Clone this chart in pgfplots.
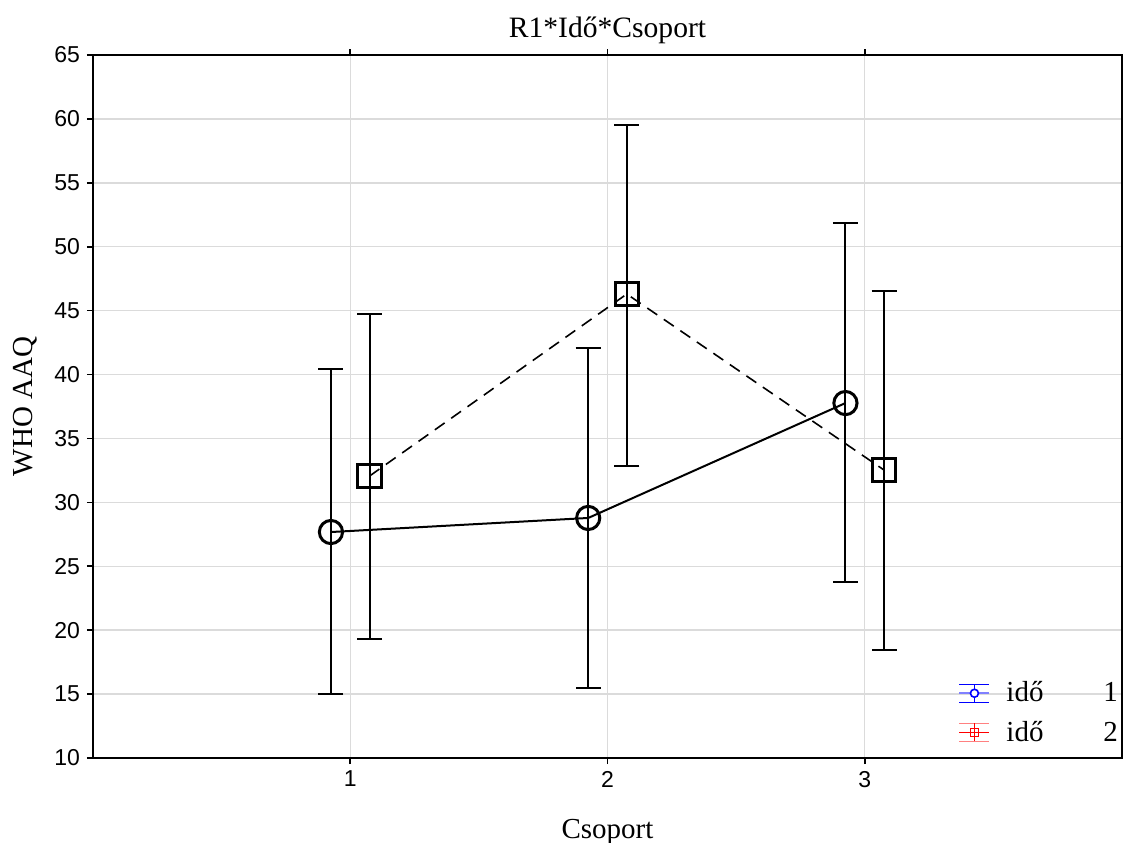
\documentclass[border=0pt]{standalone}
\usepackage{fontspec}
\setmainfont{Liberation Serif}
\newfontfamily\arialfont{Liberation Sans}
\usepackage{pgfplots}
\pgfplotsset{compat=1.18}
\usepackage{pgfplotstable}

% idő 1 (circles) and idő 2 (squares), shifted off the group position
\pgfplotstableread{
x      y      ep     em
0.925  27.68  12.75  12.68
1.925  28.78  13.30  13.31
2.925  37.77  14.09  14.00
}\idoegy
\pgfplotstableread{
x      y      ep     em
1.075  32.06  12.68  12.75
2.075  46.30  13.22  13.46
3.075  32.53  14.01  14.08
}\idoketto

\begin{document}
\begin{tikzpicture}
\useasboundingbox (-46.5pt,-42pt) rectangle (515pt,379pt);
\begin{axis}[
    scale only axis,
    width=514.5pt, height=351.5pt,
    xmin=0, xmax=4, ymin=10, ymax=65,
    xtick={1,2,3}, ytick={10,15,...,65},
    grid=major,
    major grid style={line width=0.7pt, gray!28},
    axis line style={line width=0.8pt},
    tick align=outside, tick pos=both,
    major tick length=3pt,
    tick style={line width=0.8pt, black},
    tick label style={font=\arialfont\fontsize{11.5}{13}\selectfont},
    /pgf/number format/assume math mode=true,
    title={R1*Idő*Csoport},
    title style={font=\fontsize{14.8}{17}\selectfont, yshift=-4pt},
    xlabel={Csoport},
    ylabel={WHO AAQ},
    label style={font=\fontsize{14.5}{17}\selectfont},
    xlabel style={yshift=-9pt},
    ylabel style={yshift=1.5pt},
    legend style={at={(1,0)}, anchor=south east, draw=none, fill=none,
        font=\fontsize{14.5}{17}\selectfont, row sep=4pt, yshift=5pt,
        inner sep=0pt, outer sep=0pt},
    legend cell align=left,
]
\addplot[forget plot, black, line width=1pt, mark=o, mark size=5.8pt,
    mark options={line width=1.5pt, solid},
    error bars/.cd, y dir=both, y explicit,
    error bar style={line width=1pt, solid},
    error mark options={rotate=90, mark size=6.25pt, line width=1pt}]
    table[x=x, y=y, y error plus=ep, y error minus=em] {\idoegy};
\addplot[forget plot, black, line width=0.8pt, dash pattern=on 6pt off 4pt,
    mark=square, mark size=5.8pt,
    mark options={line width=1.5pt, solid},
    error bars/.cd, y dir=both, y explicit,
    error bar style={line width=1pt, solid},
    error mark options={rotate=90, mark size=6.25pt, line width=1pt}]
    table[x=x, y=y, y error plus=ep, y error minus=em] {\idoketto};
\addlegendimage{legend image code/.code={
    \draw[blue, line width=0.6pt] (0pt,4.5pt) -- (15pt,4.5pt);
    \draw[blue, line width=0.6pt] (0pt,-4.5pt) -- (15pt,-4.5pt);
    \draw[blue!50, line width=1pt] (0pt,0pt) -- (15pt,0pt);
    \draw[blue, line width=0.6pt] (7.5pt,-4.5pt) -- (7.5pt,4.5pt);
    \draw[blue, line width=0.8pt, fill=white] (7.5pt,0pt) circle (2pt);}}
\addlegendentry{\hspace{6pt}idő\hspace{30pt}1}
\addlegendimage{legend image code/.code={
    \draw[red!50, line width=0.6pt] (0pt,4.5pt) -- (15pt,4.5pt);
    \draw[red!50, line width=0.6pt] (0pt,-4.5pt) -- (15pt,-4.5pt);
    \draw[red, line width=0.8pt] (0pt,0pt) -- (15pt,0pt);
    \draw[red, line width=0.6pt] (7.5pt,-4.5pt) -- (7.5pt,4.5pt);
    \draw[red, line width=0.8pt, fill=white] (5.5pt,-2pt) rectangle (9.5pt,2pt);
    \draw[red, line width=0.5pt] (7.5pt,-2pt) -- (7.5pt,2pt) (5.5pt,0pt) -- (9.5pt,0pt);}}
\addlegendentry{\hspace{6pt}idő\hspace{30pt}2}
\end{axis}
\end{tikzpicture}
\end{document}
